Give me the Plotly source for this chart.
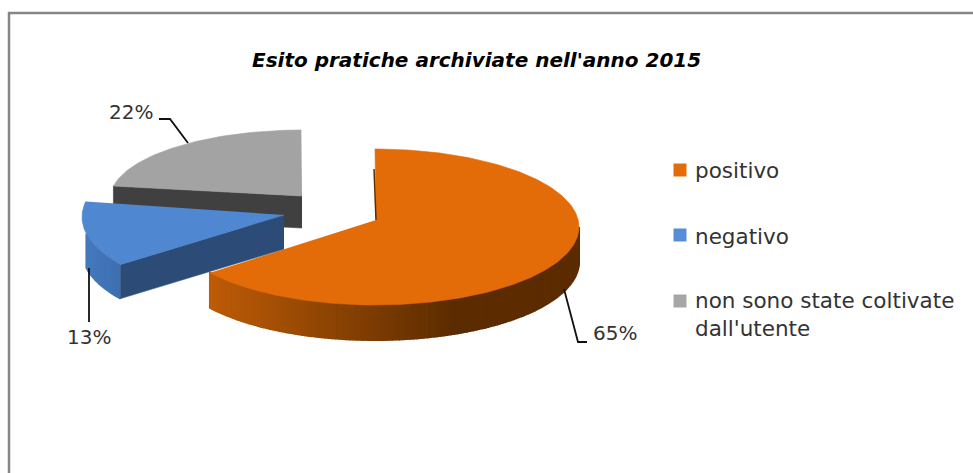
import numpy as np
import plotly.graph_objects as go

# data
categories = ["positivo", "negativo", "non sono state coltivate<br>dall'utente"]
values = [65, 13, 22]
title = "Esito pratiche archiviate nell'anno 2015"

# look of the exploded pie, in window pixels (slice order as categories)
top_colors = ["#E36C09", "#4F87D0", "#A3A3A3"]
legend_colors = ["#E36C09", "#558ED5", "#A6A6A6"]
apex = [(376, 220), (284, 215), (302, 196)]
center = [(375, 227), (284, 217), (302, 199)]
radius = [(204, 78), (202, 81), (192, 69)]
depth = [35, 34, 32]
font = "DejaVu Sans"
text_color = "#333333"

fractions = np.array(values) / sum(values)
ends = np.cumsum(fractions) * 360
starts = ends - fractions * 360


def arc(i, a, b):
    t = np.radians(np.arange(a, b + 0.5, 1.0))
    cx, cy = center[i]
    rx, ry = radius[i]
    return cx + rx * np.sin(t), cy - ry * np.cos(t)


def blend(c1, c2, f):
    c = np.array(c1) + (np.array(c2) - np.array(c1)) * f
    return "rgb(%d,%d,%d)" % tuple(c)


fig = go.Figure()


def poly(x, y, color, width=0.6):
    fig.add_trace(go.Scatter(x=x, y=y, mode="lines", fill="toself", fillcolor=color,
                             line=dict(color=color, width=width), hoverinfo="skip", showlegend=False))


def top_face(i):
    x, y = arc(i, starts[i], ends[i])
    poly(np.r_[apex[i][0], x], np.r_[apex[i][1], y], top_colors[i])


def cut_face(i, angle, color):
    x, y = arc(i, angle, angle)
    ax, ay = apex[i]
    poly([ax, x[0], x[0], ax], [ay, y[0], y[0] + depth[i], ay + depth[i]], color)


def rim(i, a, b, color_at):
    x, y = arc(i, a, b)
    for k in range(len(x) - 1):
        poly([x[k], x[k + 1], x[k + 1], x[k]],
             [y[k], y[k + 1], y[k + 1] + depth[i], y[k] + depth[i]], color_at(x[k]), width=2)


# grey slice is at the back
cut_face(2, starts[2], "#404040")
top_face(2)

# orange slice
rim(0, 90, ends[0], lambda px: blend((92, 44, 0), (190, 92, 8), np.clip((455 - px) / 242, 0, 1)))
top_face(0)
sx, sy = arc(0, 0, 0)
fig.add_trace(go.Scatter(x=[sx[0] - 1, apex[0][0]], y=[sy[0] + 20, apex[0][1]], mode="lines",
                         line=dict(color="#5C2C00", width=1.5), hoverinfo="skip", showlegend=False))

# blue slice in front of the grey one
rim(1, starts[1], 258, lambda px: blend((62, 112, 178), (70, 122, 190), np.clip((120 - px) / 35, 0, 1)))
cut_face(1, starts[1], "#2C4B76")
top_face(1)

# leader lines and percent labels
leaders = [([564, 578, 587], [289, 342, 342]),
           ([89, 89], [268, 322]),
           ([188, 170, 159], [143, 119, 119])]
label_pos = [(615, 333), (89, 337), (131, 112)]
for i in range(3):
    fig.add_trace(go.Scatter(x=leaders[i][0], y=leaders[i][1], mode="lines",
                             line=dict(color="#111111", width=1.8), hoverinfo="skip", showlegend=False))
    fig.add_annotation(x=label_pos[i][0], y=label_pos[i][1], text="%d%%" % values[i], showarrow=False,
                       font=dict(family=font, size=20, color=text_color))

# legend
legend_y = [170, 235, 301]
text_y = [170, 236, 314]
fig.add_trace(go.Scatter(x=[680] * 3, y=legend_y, mode="markers",
                         marker=dict(symbol="square", size=13, color=legend_colors),
                         hoverinfo="skip", showlegend=False))
for i in range(3):
    fig.add_annotation(x=693, y=text_y[i], text=categories[i], showarrow=False, xanchor="left", align="left",
                       font=dict(family=font, size=21.5, color=text_color))

fig.add_annotation(x=476, y=60, text="<b><i>%s</i></b>" % title, showarrow=False,
                   font=dict(family=font, size=20, color="#000000"))

# chart frame runs off the right and the bottom of the picture
fig.add_shape(type="path", path="M 9 480 L 9 13 L 980 13", line=dict(color="#868686", width=2.5))

fig.update_xaxes(range=[0, 973], visible=False, fixedrange=True)
fig.update_yaxes(range=[473, 0], visible=False, fixedrange=True)
fig.update_layout(width=973, height=473, margin=dict(l=0, r=0, t=0, b=0),
                  paper_bgcolor="white", plot_bgcolor="white", showlegend=False)
fig.write_html("out.html", config=dict(displayModeBar=False),
               post_script="document.body.style.margin='0';document.body.style.overflow='hidden';")
